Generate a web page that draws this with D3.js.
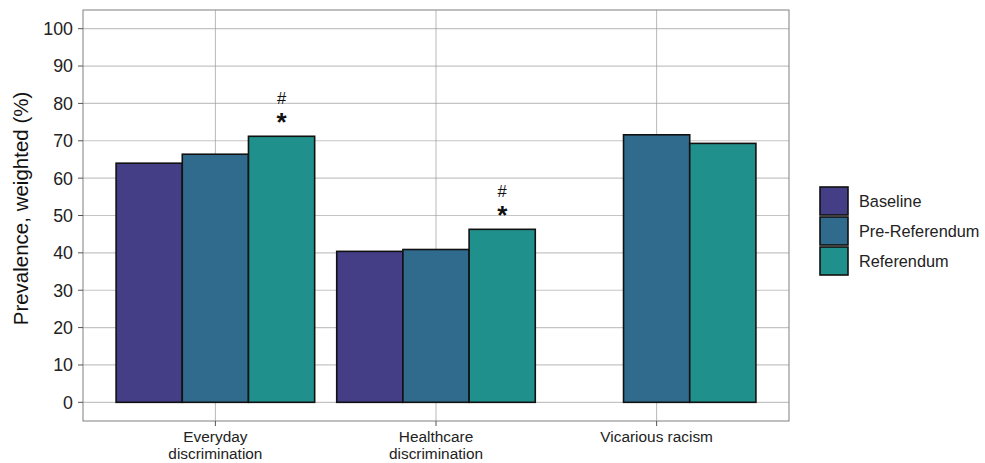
<!DOCTYPE html>
<html><head><meta charset="utf-8">
<script src="https://cdn.jsdelivr.net/npm/d3@7"></script>
<style>body{margin:0;background:#fff;} text{font-family:"Liberation Sans",Arial,sans-serif;}</style>
</head><body><svg id="c" width="985" height="463"></svg>
<script>
const categories = ["Everyday\ndiscrimination", "Healthcare\ndiscrimination", "Vicarious racism"];
const seriesNames = ["Baseline", "Pre-Referendum", "Referendum"];
const baseline = [64.0, 40.4, null];
const preReferendum = [66.4, 40.9, 71.6];
const referendum = [71.2, 46.3, 69.3];
const colors = ["#433E85", "#306B8E", "#20908C"];
const yTicks = [0,10,20,30,40,50,60,70,80,90,100];
const annotations = [{cat:0, series:2, marks:["#","*"]},{cat:1, series:2, marks:["#","*"]}];

const seriesValues = [baseline, preReferendum, referendum];
const svg = d3.select("#c");
const L=83, R=789, T=10, B=421;
// ggplot discrete expansion: 0.6 units each side
const xc = d3.scaleLinear().domain([0.4, 3.6]).range([L,R]);
const y = d3.scaleLinear().domain([-5,105]).range([B,T]);
const bw = 0.3;
const slot = (i,k)=> (i+1) - 1.5*bw + k*bw;

// grid
const g = svg.append("g");
g.selectAll(".hg").data(yTicks).join("line")
 .attr("x1",L).attr("x2",R).attr("y1",d=>y(d)).attr("y2",d=>y(d))
 .attr("stroke","#c4c4c4").attr("stroke-width",1.2);
g.selectAll(".vg").data(categories).join("line")
 .attr("x1",(d,i)=>xc(i+1)).attr("x2",(d,i)=>xc(i+1)).attr("y1",T).attr("y2",B)
 .attr("stroke","#9a9a9a").attr("stroke-width",0.7);

// bars
categories.forEach((c,i)=>{
  seriesValues.forEach((s,k)=>{
    const v = s[i];
    if (v==null) return;
    const x0 = slot(i,k);
    svg.append("rect")
      .attr("x", xc(x0)).attr("width", xc(x0+bw)-xc(x0))
      .attr("y", y(v)).attr("height", y(0)-y(v))
      .attr("fill", colors[k]).attr("stroke","#111").attr("stroke-width",1.6);
  });
});

// annotations
annotations.forEach(a=>{
  const s = seriesValues[a.series];
  const cx = xc(slot(a.cat,a.series)+bw/2);
  const top = y(s[a.cat]);
  svg.append("text").attr("x",cx).attr("y",top-32).attr("text-anchor","middle")
    .attr("font-size",16.5).attr("fill","#111").text(a.marks[0]);
  svg.append("text").attr("x",cx).attr("y",top-5).attr("text-anchor","middle")
    .attr("font-size",26).attr("font-weight","bold").attr("fill","#111").text(a.marks[1]);
});

// panel border
svg.append("rect").attr("x",L).attr("y",T).attr("width",R-L).attr("height",B-T)
 .attr("fill","none").attr("stroke","#8a8a8a").attr("stroke-width",1.1);

// y axis
yTicks.forEach(t=>{
  svg.append("line").attr("x1",L-5).attr("x2",L).attr("y1",y(t)).attr("y2",y(t)).attr("stroke","#555").attr("stroke-width",1);
  svg.append("text").attr("x",L-10).attr("y",y(t)).attr("dy","0.36em").attr("text-anchor","end")
   .attr("font-size",17.8).attr("fill","#222").text(t);
});
// x axis
categories.forEach((c,i)=>{
  const cx = xc(i+1);
  svg.append("line").attr("x1",cx).attr("x2",cx).attr("y1",B).attr("y2",B+5).attr("stroke","#555").attr("stroke-width",1);
  const t = svg.append("text").attr("text-anchor","middle").attr("font-size",15.4).attr("fill","#222");
  c.split("\n").forEach((ln,k)=>{
    t.append("tspan").attr("x",cx).attr("y",442+k*17).text(ln);
  });
});
// y title
svg.append("text").attr("transform",`translate(28,${(T+B)/2-7}) rotate(-90)`).attr("text-anchor","middle")
 .attr("font-size",20.5).attr("fill","#111").text("Prevalence, weighted (%)");

// legend
seriesNames.forEach((s,k)=>{
  const ly = 186 + k*30;
  svg.append("rect").attr("x",820).attr("y",ly+1).attr("width",28).attr("height",28)
   .attr("fill",colors[k]).attr("stroke","#111").attr("stroke-width",1.6);
  svg.append("text").attr("x",859).attr("y",ly+15).attr("dy","0.36em").attr("font-size",16.3).attr("fill","#222").text(s);
});
</script></body></html>
